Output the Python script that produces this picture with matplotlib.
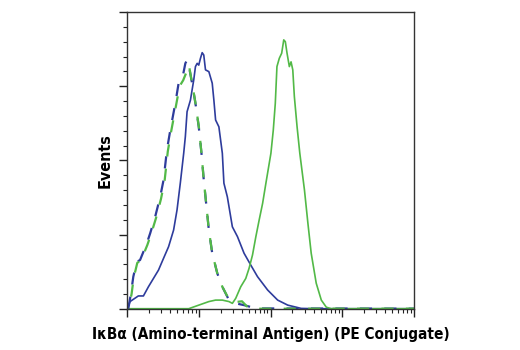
import numpy as np
import matplotlib
matplotlib.use("Agg")
import matplotlib.pyplot as plt
from matplotlib.ticker import LogLocator, MultipleLocator, NullFormatter

# fluorescence intensity in decades (log10) and % of max events
blue_x = [0, 0.038, 0.154, 0.225, 0.295, 0.365, 0.435, 0.506, 0.576, 0.646, 0.694, 0.740,
          0.787, 0.810, 0.834, 0.881, 0.927, 0.951, 0.975, 0.997, 1.021, 1.045, 1.067, 1.091,
          1.138, 1.185, 1.208, 1.232, 1.278, 1.326, 1.348, 1.396, 1.466, 1.537, 1.629, 1.723,
          1.817, 1.958, 2.098, 2.239, 2.426, 2.612, 4.0]
blue_y = [0, 2.4, 4.3, 4.3, 7.4, 10.2, 13.0, 17.0, 20.9, 26.5, 33.3, 42.4,
          52.4, 58.0, 66.4, 70.3, 77.1, 81.6, 82.7, 82.1, 84.4, 86.3, 85.5, 80.5,
          79.9, 76.0, 70.3, 63.6, 61.3, 52.4, 42.3, 37.7, 27.6, 24.3, 18.7, 14.7,
          10.8, 6.3, 2.9, 1.2, 0.1, 0, 0]

blue_iso_x = [0.014, 0.052, 0.084, 0.132, 0.178, 0.272, 0.319, 0.389, 0.459, 0.506, 0.553,
              0.600, 0.670, 0.716, 0.764, 0.810, 0.834, 0.857, 0.904, 0.951, 0.997, 1.035,
              1.067, 1.091, 1.138, 1.185, 1.256, 1.326, 1.419, 1.513, 1.629, 1.794, 4.0]
blue_iso_y = [0, 5.3, 10.8, 15.8, 16.4, 22.0, 25.4, 31.0, 37.7, 43.4, 53.5,
              60.2, 69.2, 76.0, 77.1, 82.7, 83.8, 82.1, 76.0, 69.2, 61.3, 52.4,
              43.4, 37.7, 26.5, 18.7, 11.9, 7.4, 2.9, 1.8, 1.2, 0.1, 0]

green_iso_x = [0.02, 0.06, 0.09, 0.14, 0.19, 0.28, 0.33, 0.40, 0.47, 0.52, 0.565, 0.61,
               0.68, 0.73, 0.78, 0.83, 0.86, 0.90, 0.95, 1.0, 1.035, 1.067, 1.091, 1.138,
               1.185, 1.256, 1.326, 1.40, 1.45, 1.53, 1.60, 1.66, 1.70, 1.8, 4.0]
green_iso_y = [0, 5, 10.5, 15.5, 16.2, 21.5, 25, 30.5, 37, 43, 53, 59.5,
               68.5, 75, 77, 80, 82.1, 76.5, 69.5, 61, 52.4, 43.4, 37.7, 26.5,
               18.7, 11.9, 7.4, 4, 2.8, 2.3, 2.5, 1.0, 0.2, 0, 0]

green_x = [0, 0.857, 0.997, 1.138, 1.232, 1.326, 1.419, 1.466, 1.513, 1.583, 1.653, 1.699,
           1.747, 1.794, 1.840, 1.888, 1.934, 2.004, 2.037, 2.065, 2.088, 2.121, 2.154,
           2.183, 2.205, 2.229, 2.261, 2.285, 2.309, 2.331, 2.369, 2.407, 2.472, 2.520,
           2.566, 2.636, 2.707, 2.777, 2.846, 4.0]
green_y = [0, 0, 1.2, 2.4, 2.9, 2.9, 2.4, 1.8, 3.5, 7.4, 10.2, 13.6,
           18.1, 24.3, 29.9, 35.5, 42.3, 52.4, 60.2, 69.2, 81.6, 84.4, 86.1,
           90.6, 90.0, 86.1, 81.6, 83.2, 80.5, 71.5, 61.3, 52.4, 40.0, 28.8,
           18.7, 8.6, 2.9, 0.5, 0, 0]

blue = "#2e3c9c"
green = "#52b947"

fig = plt.figure(figsize=(5.2, 3.5), dpi=100)
ax = fig.add_axes([0.2448, 0.118, 0.5513, 0.8477])

ax.plot(10 ** np.array(blue_x), blue_y, color=blue, lw=1.2)
ax.plot(10 ** np.array(green_x), green_y, color=green, lw=1.2)
# dashed isotype curves, dashes offset so the two colours alternate
ax.plot(10 ** np.array(blue_iso_x), blue_iso_y, color=blue, lw=1.6,
        linestyle=(0, (5.5, 5.5)), dash_capstyle="butt")
ax.plot(10 ** np.array(green_iso_x), green_iso_y, color=green, lw=1.6,
        linestyle=(5.5, (5.5, 5.5)), dash_capstyle="butt")

ax.set_xscale("log")
ax.set_xlim(1, 1e4)
ax.set_ylim(0, 100)
ax.xaxis.set_major_locator(LogLocator(base=10, numticks=10))
ax.xaxis.set_minor_locator(LogLocator(base=10, subs=np.arange(2, 10), numticks=50))
ax.xaxis.set_major_formatter(NullFormatter())
ax.xaxis.set_minor_formatter(NullFormatter())
ax.yaxis.set_major_locator(MultipleLocator(25))
ax.yaxis.set_minor_locator(MultipleLocator(5))
ax.yaxis.set_major_formatter(NullFormatter())
ax.tick_params(which="major", direction="out", length=6, width=1, color="#222222")
ax.tick_params(which="minor", direction="out", length=3, width=0.8, color="#222222")
for s in ax.spines.values():
    s.set_linewidth(1)
    s.set_color("#333333")

ax.set_xlabel("I\u03baB\u03b1 (Amino-terminal Antigen) (PE Conjugate)", family="DejaVu Sans",
              fontstretch="condensed", fontweight="bold", fontsize=11, labelpad=4)
ax.set_ylabel("Events", family="DejaVu Sans", fontstretch="condensed",
              fontweight="bold", fontsize=11.5, labelpad=1)

fig.savefig("out.png", dpi=100)
